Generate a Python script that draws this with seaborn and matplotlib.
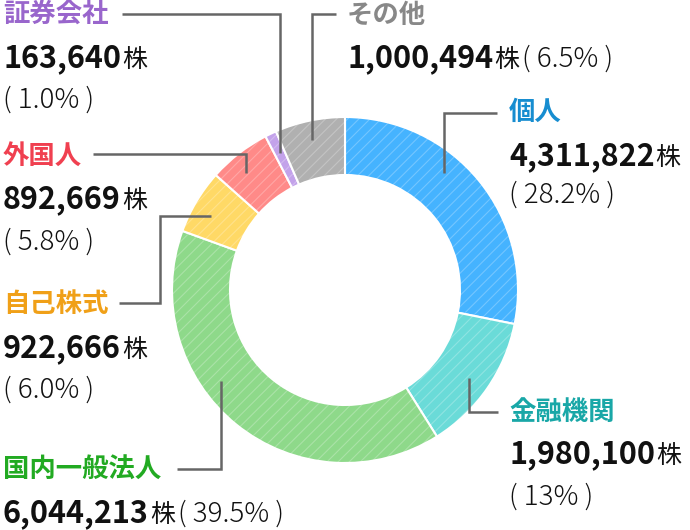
import matplotlib
matplotlib.use("Agg")
import matplotlib.pyplot as plt
import seaborn as sns

# -----------------------------
# Datos
# -----------------------------
categorias = ['個人', '金融機関', '国内一般法人', '自己株式', '外国人', '証券会社', 'その他']
acciones = [4311822, 1980100, 6044213, 922666, 892669, 163640, 1000494]
acciones_txt = ['4,311,822', '1,980,100', '6,044,213', '922,666', '892,669', '163,640', '1,000,494']
porcentajes = ['28.2', '13', '39.5', '6.0', '5.8', '1.0', '6.5']

colores = ['#45b3ff', '#6adbd8', '#8ed98a', '#ffd966', '#ff8a88', '#c3a2ea', '#b0b0b0']
colores_txt = ['#178dd0', '#19a7a7', '#22aa22', '#f0a018', '#f04050', '#9966cc', '#888888']

sns.set_theme(style="white")
plt.rcParams['font.family'] = ['Noto Sans CJK JP', 'DejaVu Sans']
plt.rcParams['hatch.linewidth'] = 0.8

fig = plt.figure(figsize=(6.9, 5.3), dpi=100)
ax = fig.add_axes([0, 0, 1, 1])

cx, cy, R = 345, 290, 173
ancho = 58

# anillo base
ax.pie(acciones, colors=colores, center=(cx, cy), radius=R,
       startangle=270, counterclock=True,
       wedgeprops=dict(width=ancho, edgecolor='white', linewidth=1.5))
# rayado
ax.pie(acciones, center=(cx, cy), radius=R, startangle=270, counterclock=True,
       wedgeprops=dict(width=ancho, facecolor='none', edgecolor=(1, 1, 1, 0.25),
                       linewidth=0, hatch='///'))

ax.set_xlim(0, 690)
ax.set_ylim(530, 0)
ax.set_aspect('auto')
ax.axis('off')

# -----------------------------
# Lineas guia (pixeles)
# -----------------------------
guias = {
    '個人': [(497, 113), (444, 113), (444, 173)],
    '金融機関': [(498, 412), (469, 412), (469, 378)],
    '国内一般法人': [(177, 469), (221, 469), (221, 381)],
    '自己株式': [(119, 303), (160, 303), (160, 216), (211, 216)],
    '外国人': [(93, 154), (246, 154), (246, 173)],
    '証券会社': [(122, 14), (280, 14), (280, 153)],
    'その他': [(336, 14), (312, 14), (312, 140)],
}
for nombre, pts in guias.items():
    xs, ys = zip(*pts)
    ax.plot(xs, ys, color='#666666', lw=1.8, solid_capstyle='butt', solid_joinstyle='miter')

renderer = fig.canvas.get_renderer()


def texto_seguido(x, y, partes):
    for s, kw, dx in partes:
        t = ax.text(x + dx, y, s, va='baseline', ha='left', **kw)
        bb = t.get_window_extent(renderer)
        x = ax.transData.inverted().transform((bb.x1, bb.y0))[0]


num_kw = dict(fontsize=22, fontweight='bold', color='#111111')
kabu_kw = dict(fontsize=18, color='#111111')
pct_kw = dict(fontsize=20, fontweight='light', color='#111111')

# (x, centro titulo, base numero, base porcentaje o None si en la misma linea)
posiciones = {
    '個人': (509, 112, 165, 203),
    '金融機関': (509, 412, 463, 505),
    '国内一般法人': (3, 470, 522, None),
    '自己株式': (3, 304, 357, 398),
    '外国人': (3, 156, 208, 250),
    '証券会社': (3, 15, 67, 108),
    'その他': (347, 15, 67, None),
}

for i, nombre in enumerate(categorias):
    x, yt, yn, yp = posiciones[nombre]
    ax.text(x, yt, nombre, va='center', ha='left', fontsize=19,
            fontweight='bold', color=colores_txt[i])
    pct = f"( {porcentajes[i]}% )"
    if yp is None:
        texto_seguido(x, yn, [(acciones_txt[i], num_kw, 0), ('株', kabu_kw, 1),
                              (pct, pct_kw, 3)])
    else:
        texto_seguido(x, yn, [(acciones_txt[i], num_kw, 0), ('株', kabu_kw, 1)])
        ax.text(x, yp, pct, va='baseline', ha='left', **pct_kw)

fig.savefig("out.png", dpi=100)
